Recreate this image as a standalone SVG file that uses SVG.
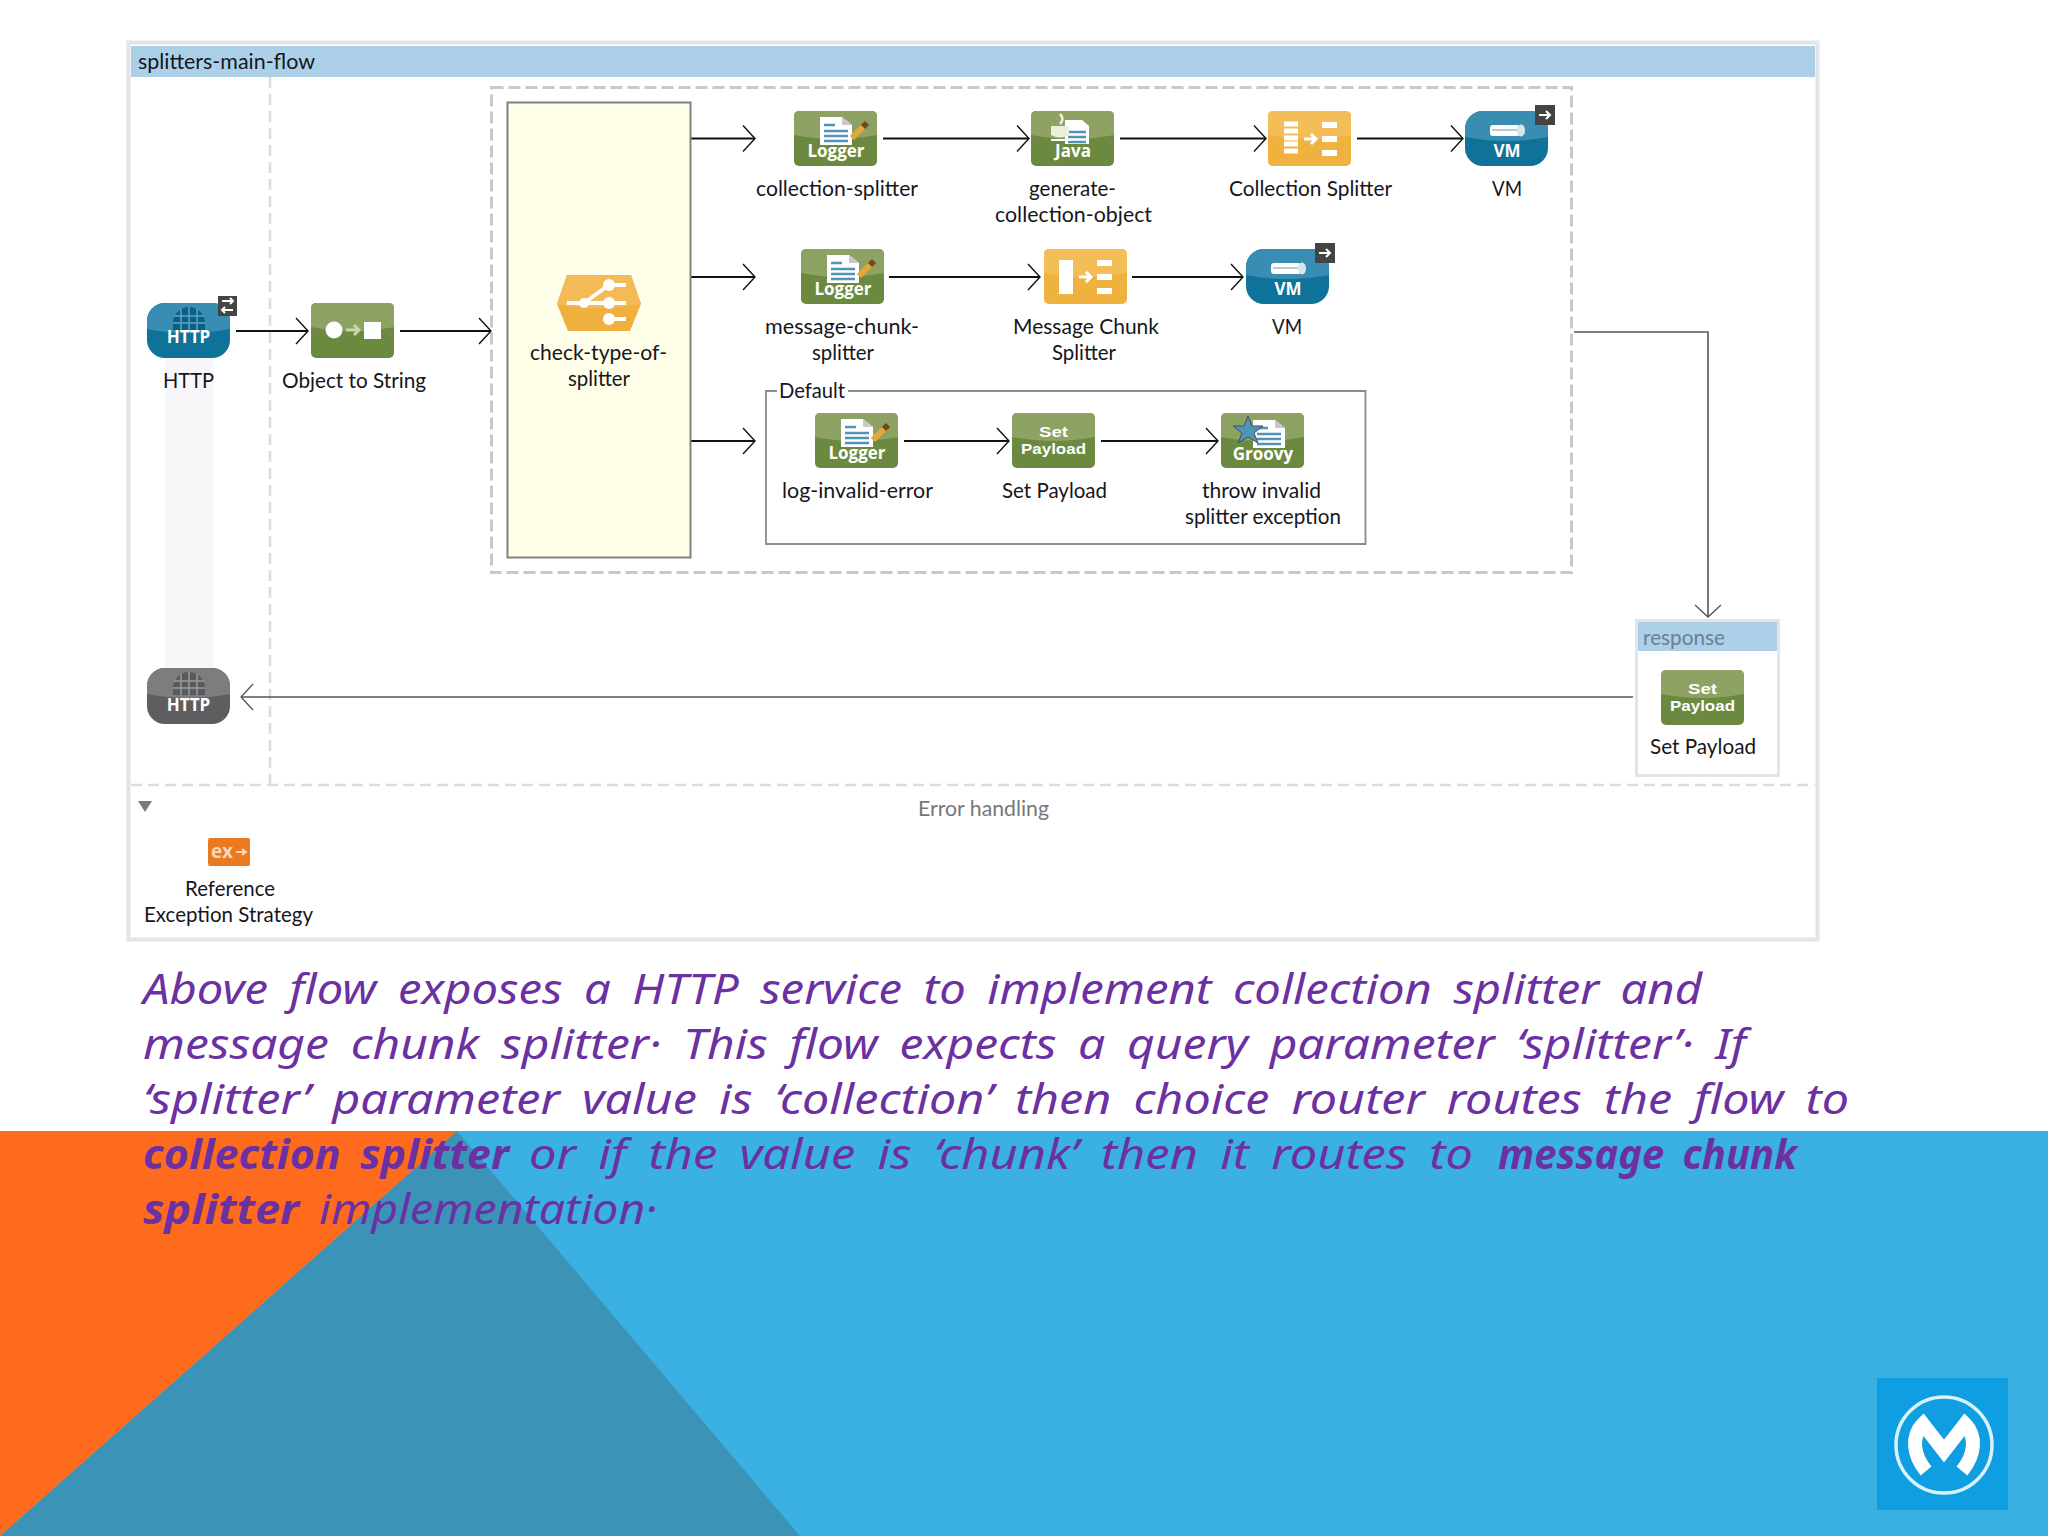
<svg xmlns="http://www.w3.org/2000/svg" width="2048" height="1536" viewBox="0 0 2048 1536">
<style>
.lb{font-family:"Lato","Liberation Sans",sans-serif;font-size:21px;fill:#16161c}
.ic{font-family:"Open Sans","Liberation Sans",sans-serif;font-size:17px;font-weight:700;fill:#fff;text-anchor:middle}
.sp{font-family:"Liberation Sans",sans-serif;font-size:14px;font-weight:700;fill:#fff}
.hw{font-family:"Noto Sans","DejaVu Sans",sans-serif;font-style:italic;font-size:41px;fill:#6b30a2;word-spacing:8px}
.hb{font-weight:700}
.dash{fill:none;stroke:#dcdce0;stroke-width:2.5;stroke-dasharray:11 6}
.scope{fill:none;stroke:#c9c9cd;stroke-width:3;stroke-dasharray:12 5}
.c1{fill:none;stroke:#111;stroke-width:2;marker-end:url(#ah)}
.c2{fill:none;stroke:#555;stroke-width:1.6;marker-end:url(#ag)}
.w{fill:#fff}
</style>
<defs>
<marker id="ah" markerUnits="userSpaceOnUse" markerWidth="20" markerHeight="32" refX="14" refY="15" orient="auto"><path d="M2 2L14 15L2 28" fill="none" stroke="#111" stroke-width="1.4"/></marker>
<marker id="ag" markerUnits="userSpaceOnUse" markerWidth="20" markerHeight="32" refX="14" refY="15" orient="auto"><path d="M2 2L14 15L2 28" fill="none" stroke="#555" stroke-width="1.3"/></marker>
<g id="bg"><rect width="83" height="55" rx="5" fill="#6c8a3f"/><path d="M0 24V5a5 5 0 0 1 5-5H78a5 5 0 0 1 5 5V24Q41 32 0 24Z" fill="#8ea263"/></g>
<g id="bo"><rect width="83" height="55" rx="5" fill="#efb23e"/><path d="M0 24V5a5 5 0 0 1 5-5H78a5 5 0 0 1 5 5V24Q41 32 0 24Z" fill="#f3bd58"/></g>
<g id="bb"><rect width="83" height="55" rx="18" fill="#0e7299"/><path d="M0 26V18A18 18 0 0 1 18 0H65A18 18 0 0 1 83 18V26Q41 34 0 26Z" fill="#3a8db2"/></g>
<g id="bk"><rect width="83" height="56" rx="18" fill="#5e5e60"/><path d="M0 26V18A18 18 0 0 1 18 0H65A18 18 0 0 1 83 18V26Q41 34 0 26Z" fill="#7d7d7f"/></g>
<g id="doc"><path d="M0 0H22L32 8V28H0Z" fill="#fff"/><path d="M22 0V8H32" fill="#c9c9c9"/><path d="M4 8H15M4 14H28M4 19H28M4 24H28" stroke="#4f94b5" stroke-width="2.5"/></g>
<g id="logger"><use href="#bg"/><use href="#doc" x="26" y="6"/><path d="M58 27L72 13" stroke="#e0a93a" stroke-width="6"/><path d="M69 16L73 12" stroke="#6b4a20" stroke-width="6"/></g>
<g id="badge"><rect width="20" height="20" fill="#444"/><path d="M4 10H15M11 6L15 10L11 14" fill="none" stroke="#fff" stroke-width="2"/></g>
<g id="tube"><rect x="25" y="14" width="30" height="11" rx="3" fill="#fff"/><ellipse cx="56" cy="19.5" rx="4" ry="6" fill="#d6e7ee"/><path d="M27 19H52" stroke="#a9b9c0" stroke-width="1.5"/></g>
<g id="globe"><path d="M26 27V20A16 16 0 0 1 58 20V27Z" fill="#0c5f85"/><path d="M27 13H57M26 20H58M34 6V27M42 4V27M50 6V27" stroke="#5ea6c6" stroke-width="1.5"/></g>
</defs>

<rect width="2048" height="1536" fill="#fff"/>
<rect y="1131" width="2048" height="405" fill="#3bb0e3"/>
<polygon points="457,1131 800,1536 0,1536" fill="#3c93b8"/>
<polygon points="0,1131 457,1131 0,1536" fill="#ff6b1c"/>

<g id="canvas">
<rect x="128.5" y="42.5" width="1689" height="897" fill="#fff" stroke="#e4e4e8" stroke-width="4"/>
<rect x="131" y="46" width="1684" height="31" fill="#acd0e8"/>
<text class="lb" x="138" y="69" textLength="177" lengthAdjust="spacingAndGlyphs">splitters-main-flow</text>
<rect x="165" y="358" width="49" height="310" fill="#f7f7f9"/>
<path class="dash" d="M270 77V785"/>
<path class="dash" d="M131 785H1815"/>
<rect class="scope" x="491.5" y="87.5" width="1080" height="485"/>
<path d="M138 801H152L145 812Z" fill="#7a7a7e"/>
<text class="lb" x="918" y="816" textLength="131" lengthAdjust="spacingAndGlyphs" style="fill:#77777b">Error handling</text>
</g>

<g id="connectors">
<path class="c1" d="M236 331H308"/>
<path class="c1" d="M400 331H491"/>
<path class="c1" d="M691 138.5H755"/>
<path class="c1" d="M691 277H755"/>
<path class="c1" d="M691 441H755"/>
<path class="c1" d="M883 138.5H1029"/>
<path class="c1" d="M1120 138.5H1266"/>
<path class="c1" d="M1357 138.5H1463"/>
<path class="c1" d="M889 277H1040"/>
<path class="c1" d="M1132 277H1243"/>
<path class="c1" d="M904 441H1009"/>
<path class="c1" d="M1101 441H1218"/>
<path class="c2" d="M1574 332H1708V617"/>
<path class="c2" d="M1633 697H241"/>
</g>

<g id="node-http-in" transform="translate(147,303)"><use href="#bb"/><use href="#globe"/><text class="ic" x="41.5" y="40">HTTP</text>
<rect x="71" y="-7" width="19" height="20" fill="#444"/><path d="M75 -2H86M83 -5L86 -2L83 1M86 7H75M78 4L75 7L78 10" fill="none" stroke="#fff" stroke-width="2"/>
<text class="lb" x="16" y="85" textLength="51" lengthAdjust="spacingAndGlyphs">HTTP</text></g>

<g id="node-object-to-string" transform="translate(311,303)"><use href="#bg"/><circle cx="23" cy="27" r="8.5" class="w"/><path d="M35 27H47M43 22L48 27L43 32" fill="none" stroke="#c8d6a8" stroke-width="3"/><rect x="53" y="19" width="17" height="17" class="w"/>
<text class="lb" x="-29" y="85" textLength="144" lengthAdjust="spacingAndGlyphs">Object to String</text></g>

<g id="node-choice">
<rect x="507.5" y="102.5" width="183" height="455" fill="#fffee8" stroke="#808080" stroke-width="2"/>
<path d="M567 275H631L641 304L630 331H568L557 304Z" fill="#efb03f"/><path d="M567 275H631L641 304Q599 312 557 304Z" fill="#f3bb57"/>
<path d="M584 303L609 285M567 303H609M609 285H626M609 303H626M609 319H626" stroke="#fff" stroke-width="4" fill="none"/><circle cx="584" cy="303" r="5" class="w"/><circle cx="609" cy="285" r="6" class="w"/><circle cx="609" cy="303" r="6" class="w"/><circle cx="609" cy="319" r="6" class="w"/>
<text class="lb" x="530" y="360" textLength="137" lengthAdjust="spacingAndGlyphs">check-type-of-</text>
<text class="lb" x="568" y="386" textLength="62" lengthAdjust="spacingAndGlyphs">splitter</text></g>

<g id="node-logger-collection" transform="translate(794,111)"><use href="#logger"/><text class="ic" x="42" y="46">Logger</text>
<text class="lb" x="-38" y="85" textLength="162" lengthAdjust="spacingAndGlyphs">collection-splitter</text></g>

<g id="node-java" transform="translate(1031,111)"><use href="#bg"/><path d="M34 9H51L58 15V33H34Z" class="w"/><path d="M37 21H55M37 26H55M37 31H55" stroke="#4f94b5" stroke-width="2.5"/><path d="M20 15H38V24Q29 29 20 24Z" fill="#e9efdd"/><path d="M29 3Q34 8 29 13" fill="none" stroke="#e9efdd" stroke-width="2.5"/><path d="M20 29H40" stroke="#fff" stroke-width="2"/><text class="ic" x="42" y="46">Java</text>
<text class="lb" x="-2" y="85" textLength="87" lengthAdjust="spacingAndGlyphs">generate-</text>
<text class="lb" x="-36" y="111" textLength="157" lengthAdjust="spacingAndGlyphs">collection-object</text></g>

<g id="node-collection-splitter" transform="translate(1268,111)"><use href="#bo"/><path d="M16 13H30M16 20H30M16 27H30M16 33H30M16 40H30" stroke="#fff" stroke-width="5" fill="none"/><path d="M36 28H47M43 23L48 28L43 33" fill="none" stroke="#fff" stroke-width="3"/><rect x="54" y="11" width="15" height="6" class="w"/><rect x="54" y="25" width="15" height="6" class="w"/><rect x="54" y="39" width="15" height="6" class="w"/>
<text class="lb" x="-39" y="85" textLength="163" lengthAdjust="spacingAndGlyphs">Collection Splitter</text></g>

<g id="node-vm-1" transform="translate(1465,111)"><use href="#bb"/><use href="#tube"/><text class="ic" x="42" y="46">VM</text><use href="#badge" x="70" y="-6"/>
<text class="lb" x="27" y="85" textLength="30" lengthAdjust="spacingAndGlyphs">VM</text></g>

<g id="node-logger-chunk" transform="translate(801,249)"><use href="#logger"/><text class="ic" x="42" y="46">Logger</text>
<text class="lb" x="-36" y="85" textLength="154" lengthAdjust="spacingAndGlyphs">message-chunk-</text>
<text class="lb" x="11" y="111" textLength="62" lengthAdjust="spacingAndGlyphs">splitter</text></g>

<g id="node-chunk-splitter" transform="translate(1044,249)"><use href="#bo"/><rect x="15" y="11" width="14" height="34" class="w"/><path d="M35 28H46M42 23L47 28L42 33" fill="none" stroke="#fff" stroke-width="3"/><rect x="53" y="11" width="15" height="6" class="w"/><rect x="53" y="25" width="15" height="6" class="w"/><rect x="53" y="39" width="15" height="6" class="w"/>
<text class="lb" x="-31" y="85" textLength="146" lengthAdjust="spacingAndGlyphs">Message Chunk</text>
<text class="lb" x="8" y="111" textLength="64" lengthAdjust="spacingAndGlyphs">Splitter</text></g>

<g id="node-vm-2" transform="translate(1246,249)"><use href="#bb"/><use href="#tube"/><text class="ic" x="42" y="46">VM</text><use href="#badge" x="69" y="-6"/>
<text class="lb" x="26" y="85" textLength="30" lengthAdjust="spacingAndGlyphs">VM</text></g>

<g id="node-default">
<path d="M766 545V391H777M848 391H1365.5V544H766" fill="none" stroke="#8c8c8c" stroke-width="1.8"/>
<text class="lb" x="779" y="398" textLength="66" lengthAdjust="spacingAndGlyphs">Default</text></g>

<g id="node-logger-invalid" transform="translate(815,413)"><use href="#logger"/><text class="ic" x="42" y="46">Logger</text>
<text class="lb" x="-33" y="85" textLength="151" lengthAdjust="spacingAndGlyphs">log-invalid-error</text></g>

<g id="node-set-payload" transform="translate(1012,413)"><use href="#bg"/><text class="sp" x="27" y="24" textLength="29" lengthAdjust="spacingAndGlyphs">Set</text><text class="sp" x="9" y="41" textLength="65" lengthAdjust="spacingAndGlyphs">Payload</text>
<text class="lb" x="-10" y="85" textLength="105" lengthAdjust="spacingAndGlyphs">Set Payload</text></g>

<g id="node-groovy" transform="translate(1221,413)"><use href="#bg"/><use href="#doc" x="32" y="7"/><path d="M27 3L31 13L42 13L33 20L37 30L27 24L17 30L21 20L12 13L23 13Z" fill="#4f94b5" stroke="#40505a"/><text class="ic" x="42" y="47">Groovy</text>
<text class="lb" x="-19" y="85" textLength="119" lengthAdjust="spacingAndGlyphs">throw invalid</text>
<text class="lb" x="-36" y="111" textLength="156" lengthAdjust="spacingAndGlyphs">splitter exception</text></g>

<g id="node-response">
<rect x="1636.5" y="620.5" width="142" height="155" fill="#fff" stroke="#e4e4e8" stroke-width="3"/>
<rect x="1638" y="622" width="139" height="29" fill="#acd0e8"/>
<text class="lb" x="1643" y="645" textLength="82" lengthAdjust="spacingAndGlyphs" style="fill:#6c7f94">response</text>
<use href="#bg" x="1661" y="670"/><text class="sp" x="1688" y="694" textLength="29" lengthAdjust="spacingAndGlyphs">Set</text><text class="sp" x="1670" y="711" textLength="65" lengthAdjust="spacingAndGlyphs">Payload</text>
<text class="lb" x="1650" y="754" textLength="106" lengthAdjust="spacingAndGlyphs">Set Payload</text></g>

<g id="node-http-out" transform="translate(147,668)"><use href="#bk"/><path d="M26 27V20A16 16 0 0 1 58 20V27Z" fill="#5a5a5c"/><path d="M27 13H57M26 20H58M34 6V27M42 4V27M50 6V27" stroke="#9a9a9c" stroke-width="1.5"/><text class="ic" x="41.5" y="43">HTTP</text></g>

<g id="node-exception"><rect x="208" y="838" width="42" height="28" rx="2" fill="#ea7a22"/><text class="ic" x="222" y="858" style="font-size:19px;fill:#f8d6b8">ex</text><path d="M236 852H245M242 849L246 852L242 855" fill="none" stroke="#f8d6b8" stroke-width="2"/>
<text class="lb" x="185" y="896" textLength="90" lengthAdjust="spacingAndGlyphs">Reference</text>
<text class="lb" x="144" y="922" textLength="169" lengthAdjust="spacingAndGlyphs">Exception Strategy</text></g>

<g id="description">
<text class="hw" x="143" y="1004" textLength="1559" lengthAdjust="spacingAndGlyphs">Above flow exposes a HTTP service to implement collection splitter and</text>
<text class="hw" x="143" y="1059" textLength="1603" lengthAdjust="spacingAndGlyphs">message chunk splitter· This flow expects a query parameter ‘splitter’· If</text>
<text class="hw" x="143" y="1114" textLength="1706" lengthAdjust="spacingAndGlyphs">‘splitter’ parameter value is ‘collection’ then choice router routes the flow to</text>
<text class="hw hb" x="143" y="1169" textLength="366" lengthAdjust="spacingAndGlyphs">collection splitter</text>
<text class="hw" x="529" y="1169" textLength="944" lengthAdjust="spacingAndGlyphs">or if the value is ‘chunk’ then it routes to</text>
<text class="hw hb" x="1498" y="1169" textLength="299" lengthAdjust="spacingAndGlyphs">message chunk</text>
<text class="hw hb" x="143" y="1224" textLength="156" lengthAdjust="spacingAndGlyphs">splitter</text>
<text class="hw" x="319" y="1224" textLength="338" lengthAdjust="spacingAndGlyphs">implementation·</text>
</g>

<g id="logo">
<rect x="1877" y="1378" width="131" height="132" fill="#0f9ee2"/>
<circle cx="1944" cy="1445" r="48" fill="none" stroke="#d8f3fb" stroke-width="3.5"/>
<path d="M1926 1471C1913 1455 1911 1436 1923 1424L1944 1451L1965 1424C1977 1436 1975 1455 1962 1471" fill="none" stroke="#fff" stroke-width="14"/>
</g>
</svg>
